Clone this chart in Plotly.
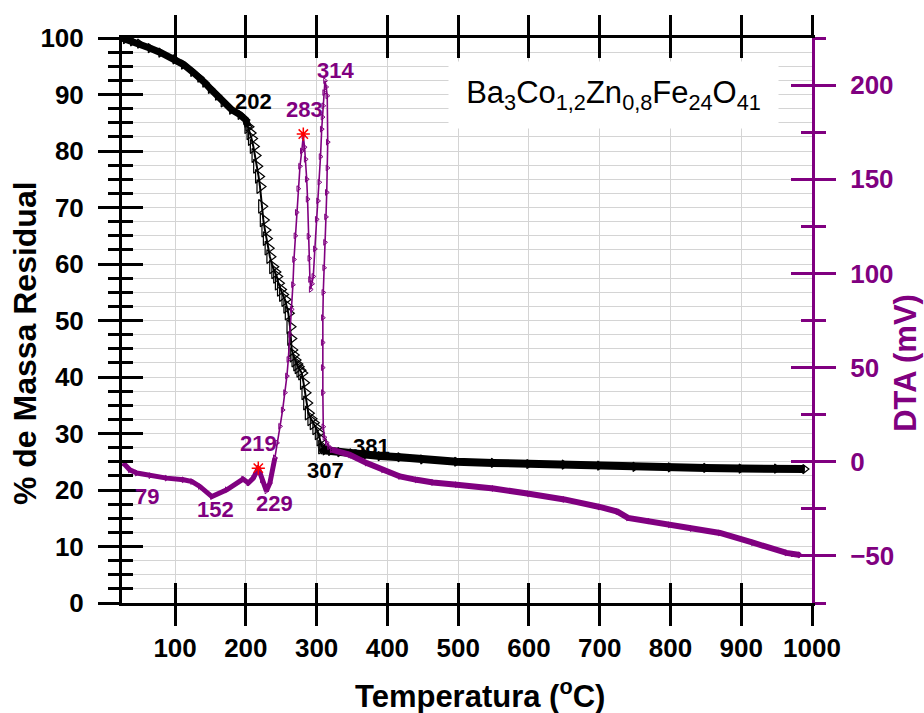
import plotly.graph_objects as go

# ---------------- data ----------------
# TGA (% residual mass) - three segments of the same curve
tga_temp_a = [25, 30, 40, 50, 65, 80, 100, 112, 125, 135, 142, 150, 160, 168, 180, 192, 200, 203]
tga_mass_a = [100, 99.8, 99.4, 99.0, 98.2, 97.4, 96.2, 95.3, 94.0, 93.0, 92.1, 91.0, 89.8, 88.6, 87.3, 86.4, 85.5, 84.3]

tga_temp_b = [203, 206, 208, 210.6, 213, 215.3, 218, 220, 222.4, 224.7, 227, 229, 231.5, 234, 238, 241, 243.6,
              246, 249, 252, 255.3, 258, 260, 262.4, 263.5, 264.8, 267, 269.5, 272, 274, 276.5, 279, 281.5,
              283.6, 286, 288.3, 292, 295.3, 299, 302.4, 305, 307.2]
tga_mass_b = [84.3, 83.2, 82.2, 80.8, 79.2, 77.3, 75.5, 73.7, 70.2, 67.8, 66.0, 64.5, 62.8, 61.3, 59.5, 58.6, 57.8,
              56.6, 55.5, 54.6, 53.7, 52.5, 51.3, 48.9, 46.8, 44.8, 43.9, 43.0, 42.3, 41.8, 41.2, 40.7, 39.0,
              37.2, 35.4, 33.6, 32.6, 31.9, 31.0, 30.1, 29.0, 27.6]

tga_temp_c = [307.2, 309, 312, 320, 333, 350, 370, 390, 418, 450, 498, 550, 600, 650, 700, 750, 800, 850, 900, 950, 990]
tga_mass_c = [27.6, 27.2, 27.0, 26.9, 26.7, 26.5, 26.3, 26.0, 25.8, 25.4, 25.0, 24.8, 24.6, 24.5, 24.3, 24.1, 24.0,
              23.9, 23.8, 23.8, 23.7]

# DTA (mV) - three segments of the same curve
dta_temp_a = [26.8, 36, 46, 65, 88, 112, 124, 135, 152, 173, 196, 203.5, 210.5, 217.6, 222.5, 229, 234, 241]
dta_mv_a = [-0.7, -4.3, -6.0, -7.4, -8.7, -9.6, -10.5, -13.1, -18.5, -14.9, -9.2, -11.3, -8.7, -3.4, -9.6, -15.5, -11.3, 2.0]

dta_temp_b = [241, 244, 248.3, 252, 255.3, 258, 260, 262.5, 264.8, 266.5, 268, 270, 271.9, 274, 276.5, 279,
              281.2, 283, 284.5, 286, 287.2, 288.5, 289.6, 290.6, 291.6, 293.5, 295.3, 297.5, 300.1, 302,
              303.8, 305.5, 307.2, 308.3, 309.4, 310.6, 311.8, 313.5, 315, 315.7, 315.3, 314.3, 313.2, 311.8,
              310.6, 309.4, 308.8, 308.6, 308.6, 308.8, 309.4, 311, 314.3, 317.5, 321.3]
dta_mv_b = [2.0, 10.0, 18.8, 27.5, 36.7, 45.5, 54.3, 67.5, 80.9, 94.0, 107.4, 120.0, 132.4, 145.0, 156.9, 165.0,
            173.0, 167.0, 160.6, 150.0, 139.4, 119.7, 108.0, 96.8, 91.5, 94.5, 98.4, 113.0, 128.7, 138.5,
            148.4, 162.0, 176.6, 183.0, 189.0, 196.0, 202.3, 199.0, 194.3, 169.7, 156.0, 143.0, 130.0, 116.5,
            103.0, 89.9, 76.5, 63.3, 50.0, 36.7, 18.6, 13.0, 10.1, 8.0, 6.4]

dta_temp_c = [321.3, 347, 370.8, 393.8, 417.8, 441.4, 464.5, 498, 550, 600, 650, 700, 725, 740, 770, 799, 830,
              870, 916.6, 964, 983]
dta_mv_c = [6.4, 3.7, -0.7, -4.3, -7.8, -9.6, -11.0, -12.2, -14.2, -17.0, -20.0, -24.0, -26.5, -29.8, -31.5,
            -33.5, -35.5, -37.8, -43.0, -48.4, -49.5]

# red marked points on the DTA curve
star_temp = [217.6, 281.2]
star_mv = [-3.4, 174.0]

# point labels
tga_label_text = ["202", "307", "381"]
tga_label_x = [211, 313, 378]
tga_label_y = [88.8, 23.5, 27.7]

dta_label_text = ["79", "152", "219", "229", "283", "314"]
dta_label_x = [60, 157, 218, 240, 283, 326]
dta_label_y = [-18.5, -25.5, 9.5, -22.3, 187, 207.5]

formula = ("Ba<sub>3</sub>Co<sub>1,2</sub>Zn<sub>0,8</sub>Fe<sub>24</sub>O<sub>41</sub>")

x_range = [25, 1000]
y_left_range = [0, 100]
y_right_range = [-75, 225]

# ---------------- styles ----------------
PURPLE = "#800080"
BLACK = "#000000"
GRID = "#d4d4d4"
FONT = "Liberation Sans"

fig = go.Figure()

# TGA traces
for tx, ty, w, ms in [(tga_temp_a, tga_mass_a, 7, 8), (tga_temp_b, tga_mass_b, 2, 12),
                      (tga_temp_c, tga_mass_c, 8, 8)]:
    fig.add_trace(go.Scatter(
        x=tx, y=ty, mode="lines+markers", yaxis="y",
        line=dict(color=BLACK, width=w),
        marker=dict(symbol="triangle-right-open", size=ms, color=BLACK, line=dict(width=1.2, color=BLACK)),
        showlegend=False, hoverinfo="skip"))

# DTA traces
for tx, ty, w, ms in [(dta_temp_a, dta_mv_a, 5, 5), (dta_temp_b, dta_mv_b, 1.6, 5),
                      (dta_temp_c, dta_mv_c, 6, 5)]:
    fig.add_trace(go.Scatter(
        x=tx, y=ty, mode="lines+markers", yaxis="y2",
        line=dict(color=PURPLE, width=w),
        marker=dict(symbol="triangle-right-open", size=ms, color=PURPLE, line=dict(width=1, color=PURPLE)),
        showlegend=False, hoverinfo="skip"))

fig.add_trace(go.Scatter(
    x=star_temp, y=star_mv, mode="markers", yaxis="y2",
    marker=dict(symbol="asterisk-open", size=11, color="red", line=dict(width=1.5, color="red")),
    showlegend=False, hoverinfo="skip"))

# empty traces so that the overlay axes carrying the inner tick halves get drawn
fig.add_trace(go.Scatter(x=[None], y=[None], xaxis="x2", yaxis="y3", showlegend=False, hoverinfo="skip"))
fig.add_trace(go.Scatter(x=[None], y=[None], xaxis="x", yaxis="y4", showlegend=False, hoverinfo="skip"))

# ---------------- annotations ----------------
ann = []
for t, x, y in zip(tga_label_text, tga_label_x, tga_label_y):
    ann.append(dict(text=t, x=x, y=y, xref="x", yref="y", showarrow=False,
                    font=dict(family=FONT, size=22, color=BLACK, weight="bold")))
for t, x, y in zip(dta_label_text, dta_label_x, dta_label_y):
    ann.append(dict(text=t, x=x, y=y, xref="x", yref="y2", showarrow=False,
                    font=dict(family=FONT, size=22, color=PURPLE, weight="bold")))

# formula box
ann.append(dict(text=formula, x=0.7123, y=0.899, xref="paper", yref="paper", showarrow=False,
                xanchor="center", yanchor="middle", bgcolor="white", width=327, height=64,
                font=dict(family=FONT, size=31, color=BLACK)))

# axis titles
ann.append(dict(text="% de Massa Residual", x=-0.1406, y=0.460, xref="paper", yref="paper",
                showarrow=False, textangle=-90, xanchor="center", yanchor="middle",
                font=dict(family=FONT, size=32, color=BLACK, weight="bold")))
ann.append(dict(text="Temperatura (<sup>o</sup>C)", x=0.519, y=-0.161, xref="paper", yref="paper",
                showarrow=False, xanchor="center", yanchor="middle",
                font=dict(family=FONT, size=31, color=BLACK, weight="bold")))
ann.append(dict(text="DTA (mV)", x=1.136, y=0.4248, xref="paper", yref="paper",
                showarrow=False, textangle=-90, xanchor="center", yanchor="middle",
                font=dict(family=FONT, size=31, color=PURPLE, weight="bold")))

tickfont_k = dict(family=FONT, size=26, color=BLACK, weight="bold")
tickfont_p = dict(family=FONT, size=26, color=PURPLE, weight="bold")

fig.update_layout(
    width=924, height=713,
    margin=dict(l=122, r=112, t=38, b=110),
    paper_bgcolor="white", plot_bgcolor="white",
    showlegend=False,
    annotations=ann,
    xaxis=dict(range=x_range, tick0=0, dtick=100, ticks="outside", ticklen=20, tickwidth=3,
               tickcolor=BLACK, showline=True, linecolor=BLACK, linewidth=3, mirror="allticks",
               showgrid=True, gridcolor=GRID, gridwidth=1, zeroline=False, tickfont=tickfont_k,
               ticklabelstandoff=0),
    xaxis2=dict(range=x_range, overlaying="x", anchor="y3", side="bottom", tick0=0, dtick=100,
                ticks="inside", ticklen=20, tickwidth=3, tickcolor=BLACK, showline=True,
                linecolor=BLACK, linewidth=3, mirror="allticks", showgrid=False, zeroline=False,
                showticklabels=False),
    yaxis=dict(range=y_left_range, dtick=10, ticks="outside", ticklen=21, tickwidth=3, tickcolor=BLACK,
               showline=True, linecolor=BLACK, linewidth=3, showgrid=True, gridcolor=GRID, gridwidth=1,
               zeroline=False, tickfont=tickfont_k, ticklabelstandoff=9,
               minor=dict(dtick=2.5, ticks="outside", ticklen=11, tickwidth=3, tickcolor=BLACK,
                          showgrid=True, gridcolor=GRID, gridwidth=1)),
    yaxis3=dict(range=y_left_range, overlaying="y", side="left", anchor="x2", dtick=10, ticks="inside",
                ticklen=21, tickwidth=3, tickcolor=BLACK, showline=False, showgrid=False, zeroline=False,
                showticklabels=False,
                minor=dict(dtick=2.5, ticks="inside", ticklen=11, tickwidth=3, tickcolor=BLACK, showgrid=False)),
    yaxis2=dict(range=y_right_range, overlaying="y", side="right", anchor="x", tick0=0, dtick=50,
                ticks="outside", ticklen=21, tickwidth=3, tickcolor=PURPLE, showline=True, linecolor=PURPLE,
                linewidth=3, showgrid=False, zeroline=False, tickfont=tickfont_p, ticklabelstandoff=9,
                minor=dict(tick0=0, dtick=25, ticks="outside", ticklen=11, tickwidth=3, tickcolor=PURPLE,
                           showgrid=False)),
    yaxis4=dict(range=y_right_range, overlaying="y", side="right", anchor="x", tick0=0, dtick=50,
                ticks="inside", ticklen=21, tickwidth=3, tickcolor=PURPLE, showline=False, showgrid=False,
                zeroline=False, showticklabels=False,
                minor=dict(tick0=0, dtick=25, ticks="inside", ticklen=11, tickwidth=3, tickcolor=PURPLE,
                           showgrid=False)),
)

fig.write_html("out.html")
